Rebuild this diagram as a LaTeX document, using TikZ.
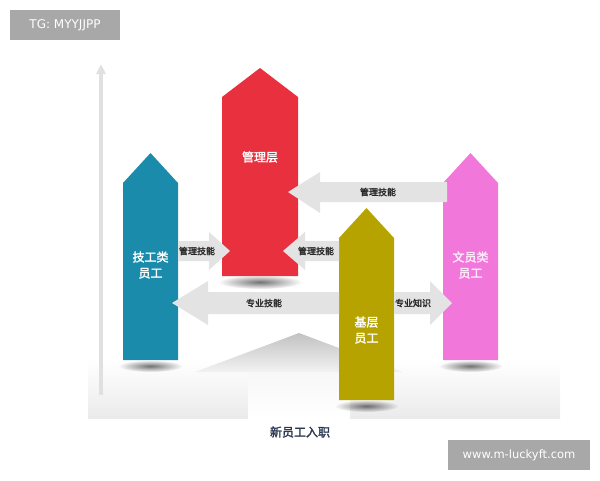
\documentclass[tikz,border=0pt]{standalone}
\usepackage{fontspec}
\setmainfont{Liberation Sans}
\newfontfamily\cjk{Noto Sans CJK SC}[AutoFakeBold = 2]
\newfontfamily\tagfont{DejaVu Sans}
\usetikzlibrary{positioning,arrows.meta,fadings}

\definecolor{jigong}{HTML}{1A8BAA}
\definecolor{guanli}{HTML}{E8303F}
\definecolor{jiceng}{HTML}{B7A300}
\definecolor{wenyuan}{HTML}{F277DB}
\definecolor{skillgray}{HTML}{E3E3E3}
\definecolor{tagbg}{HTML}{A8A8A8}
\definecolor{navytext}{HTML}{2B3852}

\tikzfading[name = blobfade, inner color = transparent!0, outer color = transparent!100]

\tikzset{
    coltext/.style = {text = white, font = \cjk\bfseries\fontsize{12}{16}\selectfont, align = center},
    skill/.style = {text = black!85, font = \cjk\bfseries\fontsize{9}{11}\selectfont},
    skillarrow/.style = {fill = skillgray},
    blob/.style = {fill = black, opacity = 0.55, path fading = blobfade},
    tagbox/.style = {fill = tagbg, text = white, inner sep = 0pt}
}

\begin{document}
\begin{tikzpicture}[x = 1pt, y = -1pt]
        \useasboundingbox (0, 0) rectangle (600, 480);

        % floor and faint house in the back
        \shade[top color = white, bottom color = black!8] (88, 360) rectangle (560, 418);
        \shade[top color = black!24, bottom color = black!5] (195, 372) -- (299, 333) -- (403, 372) -- cycle;
        \shade[top color = black!3, bottom color = white] (248, 372) rectangle (350, 418);

        % vertical axis
        \draw[line width = 4pt, draw = black!12, -{Triangle[length = 10pt, width = 9pt]}] (101, 395) -- (101, 64);

        % shadows
        \fill[blob] (150.5, 366) ellipse (32 and 6);
        \fill[blob] (260, 282) ellipse (42 and 7);
        \fill[blob] (366.5, 406) ellipse (32 and 6);
        \fill[blob] (470.5, 366) ellipse (32 and 6);

        % columns
        \fill[jigong] (123, 360) -- (123, 183) -- (150.5, 153) -- (178, 183) -- (178, 360) -- cycle;
        \fill[guanli] (222, 276) -- (222, 97) -- (260, 68) -- (298, 97) -- (298, 276) -- cycle;
        \fill[jiceng] (339, 400) -- (339, 238) -- (366.5, 208) -- (394, 238) -- (394, 400) -- cycle;
        \fill[wenyuan] (443, 360) -- (443, 183) -- (470.5, 153) -- (498, 183) -- (498, 360) -- cycle;

        \node[coltext] (jigongText) at (150.5, 265) {技工类\\员工};
        \node[coltext] (guanliText) at (260, 157) {管理层};
        \node[coltext] (jicengText) at (366.5, 330) {基层\\员工};
        \node[coltext, text = white!85!wenyuan] (wenyuanText) at (470.5, 265) {文员类\\员工};

        % skill arrows
        \fill[skillarrow] (447, 182) -- (320, 182) -- (320, 172) -- (288, 192) -- (320, 213) -- (320, 202) -- (447, 202) -- cycle;
        \fill[skillarrow] (178, 241) -- (209, 241) -- (209, 232) -- (230, 251) -- (209, 270) -- (209, 261) -- (178, 261) -- cycle;
        \fill[skillarrow] (339, 241) -- (305, 241) -- (305, 232) -- (283, 251) -- (305, 270) -- (305, 261) -- (339, 261) -- cycle;
        \fill[skillarrow] (339, 292) -- (208, 292) -- (208, 281) -- (172, 303) -- (208, 325) -- (208, 314) -- (339, 314) -- cycle;
        \fill[skillarrow] (394, 292) -- (430, 292) -- (430, 281) -- (452, 303) -- (430, 325) -- (430, 314) -- (394, 314) -- cycle;

        \node[skill] (topSkill) at (378, 192) {管理技能};
        \node[skill] (leftSkill) at (197, 251) {管理技能};
        \node[skill] (midSkill) at (316, 251) {管理技能};
        \node[skill] (proSkill) at (264, 303) {专业技能};
        \node[skill] (proKnow) at (413, 303) {专业知识};

        % bottom caption
        \node[text = navytext, font = \cjk\bfseries\fontsize{12}{14}\selectfont] (entry) at (300, 432) {新员工入职};

        % tags
        \fill[tagbox] (10, 10) rectangle (120, 40);
        \node[text = white, font = \tagfont\fontsize{12}{14}\selectfont] (tgTag) at (65, 25) {TG: MYYJJPP};
        \fill[tagbox] (448, 440) rectangle (590, 470);
        \node[text = white, font = \tagfont\fontsize{11.5}{14}\selectfont] (urlTag) at (519, 455) {www.m-luckyft.com};

    \end{tikzpicture}
\end{document}
